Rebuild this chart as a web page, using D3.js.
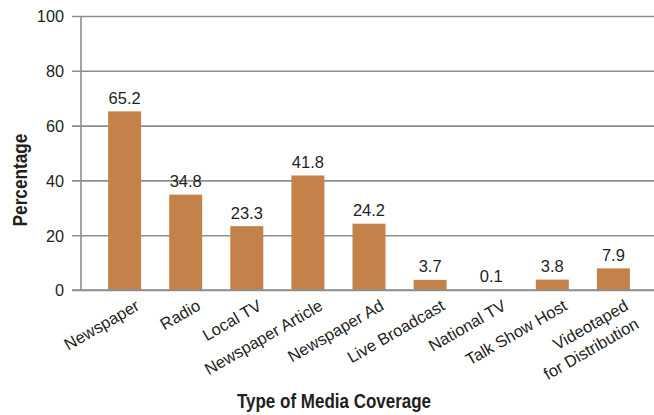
<!DOCTYPE html>
<html>
<head>
<meta charset="utf-8">
<script src="https://cdn.jsdelivr.net/npm/d3@7"></script>
<style>
  html, body { margin: 0; padding: 0; background: #fff; }
  svg { display: block; }
  .tick-label, .value-label, .cat-label { font-family: "Liberation Sans", Arial, sans-serif; fill: #231f20; }
  .title { font-family: "Liberation Sans", Arial, sans-serif; font-weight: bold; fill: #231f20; }
</style>
</head>
<body>
<svg id="chart" width="654" height="415"></svg>
<script>
// Share of respondents reporting each type of media coverage
const categories = [
  ["Newspaper"],
  ["Radio"],
  ["Local TV"],
  ["Newspaper Article"],
  ["Newspaper Ad"],
  ["Live Broadcast"],
  ["National TV"],
  ["Talk Show Host"],
  ["Videotaped", "for Distribution"]
];
const values = [65.2, 34.8, 23.3, 41.8, 24.2, 3.7, 0.1, 3.8, 7.9];
const yTicks = [0, 20, 40, 60, 80, 100];

const data = categories.map((lines, i) => ({ key: lines.join(" "), lines, value: values[i] }));

const svg = d3.select("#chart");
const gridColor = "#8e8e8e";
const barColor = "#c4824a";

const x = d3.scaleBand()
  .domain(data.map(d => d.key))
  .range([80, 658])
  .padding(0.46);

const y = d3.scaleLinear()
  .domain([0, 100])
  .range([290, 16]);

// horizontal gridlines with short tick stubs left of the axis
const yAxis = d3.axisLeft(y)
  .tickValues(yTicks)
  .tickSize(-(654 - 72))
  .tickFormat(d3.format("d"));

const gy = svg.append("g")
  .attr("transform", "translate(72,0)")
  .call(yAxis);
gy.select(".domain").remove();
gy.selectAll(".tick line")
  .attr("stroke", gridColor)
  .attr("stroke-width", 1.6);
gy.selectAll(".tick text")
  .attr("class", "tick-label")
  .attr("x", -8)
  .attr("dy", "0.36em")
  .style("font-size", "16.3px")
  .attr("fill", "#231f20");

// vertical axis line
svg.append("line")
  .attr("x1", 81).attr("x2", 81)
  .attr("y1", y(100)).attr("y2", y(0))
  .attr("stroke", gridColor)
  .attr("stroke-width", 1.6);

// bars
svg.append("g").selectAll("rect")
  .data(data)
  .join("rect")
  .attr("x", d => x(d.key))
  .attr("width", x.bandwidth())
  .attr("y", d => y(d.value))
  .attr("height", d => y(0) - y(d.value))
  .attr("fill", barColor);

// baseline redrawn over bar bottoms
svg.append("line")
  .attr("x1", 72).attr("x2", 654)
  .attr("y1", y(0)).attr("y2", y(0))
  .attr("stroke", gridColor)
  .attr("stroke-width", 1.6);

// value labels
svg.append("g").selectAll("text")
  .data(data)
  .join("text")
  .attr("class", "value-label")
  .attr("x", d => x(d.key) + x.bandwidth() / 2)
  .attr("y", d => y(d.value) - 7.5)
  .attr("text-anchor", "middle")
  .style("font-size", "16.5px")
  .text(d => d.value.toFixed(1));

// rotated category labels
const cat = svg.append("g").selectAll("text")
  .data(data)
  .join("text")
  .attr("class", "cat-label")
  .attr("text-anchor", "end")
  .style("font-size", "16.5px")
  .attr("transform", d => `translate(${x(d.key) + x.bandwidth() / 2 + 16},309) rotate(-30)`);
cat.selectAll("tspan")
  .data(d => d.lines)
  .join("tspan")
  .attr("x", 0)
  .attr("dy", (l, i) => i === 0 ? 0 : 21)
  .text(l => l);

// axis titles, bold and slightly condensed
svg.append("text")
  .attr("class", "title")
  .attr("transform", "translate(27,180) rotate(-90) scale(0.84,1)")
  .attr("text-anchor", "middle")
  .style("font-size", "20.5px")
  .text("Percentage");

svg.append("text")
  .attr("class", "title")
  .attr("transform", "translate(334,408) scale(0.85,1)")
  .attr("text-anchor", "middle")
  .style("font-size", "20px")
  .text("Type of Media Coverage");
</script>
</body>
</html>
